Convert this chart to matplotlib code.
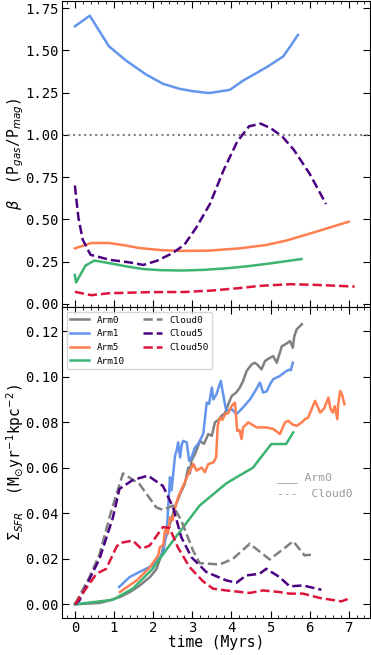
import matplotlib
matplotlib.use('Agg')
import matplotlib.pyplot as plt
from matplotlib.ticker import MultipleLocator

plt.rcParams['font.family'] = ['DejaVu Sans Mono', 'DejaVu Sans']

# ---- beta (top panel) ----
tb_arm1 = [0, 0.38, 0.87, 1.31, 1.82, 2.25, 2.68, 3.02, 3.43, 3.96, 4.30, 4.90, 5.32, 5.49, 5.70]
b_arm1 = [1.642, 1.705, 1.524, 1.439, 1.357, 1.302, 1.272, 1.258, 1.247, 1.266, 1.321, 1.40, 1.463, 1.518, 1.591]
tb_arm5 = [0, 0.42, 0.87, 1.3, 1.65, 2.2, 2.68, 3.44, 4.21, 4.89, 5.40, 6.17, 7.0]
b_arm5 = [0.328, 0.360, 0.360, 0.345, 0.330, 0.318, 0.313, 0.315, 0.328, 0.348, 0.374, 0.427, 0.486]
tb_arm10 = [0, 0.03, 0.27, 0.50, 0.89, 1.3, 1.74, 2.2, 2.76, 3.3, 3.87, 4.4, 4.89, 5.3, 5.79]
b_arm10 = [0.171, 0.126, 0.226, 0.256, 0.240, 0.222, 0.206, 0.199, 0.197, 0.201, 0.210, 0.222, 0.236, 0.249, 0.265]
tb_cloud5 = [0, 0.09, 0.2, 0.4, 0.9, 1.4, 1.75, 2.1, 2.5, 2.8, 3.1, 3.45, 3.8, 4.15, 4.45, 4.75, 5.0, 5.3, 5.6, 6.0, 6.42]
b_cloud5 = [0.70, 0.51, 0.38, 0.29, 0.26, 0.245, 0.23, 0.255, 0.30, 0.35, 0.45, 0.59, 0.79, 0.96, 1.05, 1.066, 1.04, 0.99, 0.91, 0.77, 0.59]
tb_cloud50 = [0, 0.42, 0.89, 1.91, 2.8, 3.53, 4.2, 4.72, 5.49, 6.17, 7.15]
b_cloud50 = [0.071, 0.051, 0.063, 0.069, 0.070, 0.079, 0.093, 0.106, 0.116, 0.112, 0.102]

# ---- SFR (bottom panel) ----
t_arm0 = [0, 0.64, 0.90, 1.15, 1.41, 1.66, 1.92, 2.09, 2.22, 2.30, 2.43, 2.56, 2.69, 2.81, 2.90, 2.94,
          2.98, 3.07, 3.20, 3.30, 3.41, 3.50, 3.58, 3.67, 3.75, 3.84, 3.92, 4.01, 4.12, 4.21, 4.30, 4.39,
          4.52, 4.60, 4.68, 4.77, 4.86, 4.99, 5.07, 5.16, 5.29, 5.37, 5.50, 5.57, 5.61, 5.67, 5.80]
s_arm0 = [0, 0.0006, 0.0018, 0.0032, 0.0054, 0.0083, 0.012, 0.0156, 0.0222, 0.028, 0.0353, 0.0426, 0.0485,
          0.0529, 0.0601, 0.0575, 0.0631, 0.066, 0.0718, 0.0705, 0.0748, 0.0740, 0.0799, 0.0810, 0.0828,
          0.0840, 0.0879, 0.0915, 0.093, 0.095, 0.0981, 0.1025, 0.1054, 0.1061, 0.1050, 0.1032, 0.1069,
          0.1083, 0.1090, 0.1061, 0.1134, 0.1141, 0.1156, 0.1127, 0.1178, 0.1208, 0.1230]
t_arm1 = [1.13, 1.40, 1.65, 1.99, 2.09, 2.20, 2.27, 2.36, 2.43, 2.47, 2.50, 2.56, 2.60, 2.64, 2.69, 2.73,
          2.77, 2.86, 2.92, 2.98, 3.07, 3.15, 3.28, 3.37, 3.43, 3.50, 3.54, 3.62, 3.67, 3.73, 3.79, 3.86,
          3.92, 4.01, 4.13, 4.30, 4.48, 4.62, 4.73, 4.81, 4.90, 4.99, 5.07, 5.24, 5.41, 5.47, 5.52, 5.57]
s_arm1 = [0.0076, 0.012, 0.0142, 0.0171, 0.0193, 0.021, 0.0237, 0.0353, 0.0558, 0.050, 0.0551, 0.0653,
          0.0675, 0.0711, 0.0645, 0.0700, 0.0718, 0.0711, 0.063, 0.0645, 0.0689, 0.0704, 0.0748, 0.0886,
          0.088, 0.0952, 0.090, 0.0923, 0.0950, 0.0981, 0.0923, 0.0857, 0.0850, 0.0857, 0.0835, 0.0865,
          0.0901, 0.094, 0.0974, 0.0930, 0.0935, 0.0967, 0.0989, 0.1003, 0.1025, 0.1030, 0.1028, 0.1061]
t_arm5 = [1.15, 1.58, 1.92, 2.13, 2.17, 2.26, 2.30, 2.34, 2.38, 2.43, 2.50, 2.56, 2.64, 2.73, 2.81, 2.90,
          3.03, 3.11, 3.24, 3.32, 3.41, 3.54, 3.61, 3.65, 3.71, 3.77, 3.84, 3.92, 4.01, 4.09, 4.15, 4.21,
          4.26, 4.30, 4.43, 4.65, 4.90, 5.07, 5.24, 5.37, 5.45, 5.56, 5.67, 5.80, 5.88, 5.96, 6.05, 6.14,
          6.20, 6.27, 6.37, 6.48, 6.53, 6.59, 6.64, 6.71, 6.73, 6.78, 6.83, 6.89]
s_arm5 = [0.0054, 0.0105, 0.0163, 0.0215, 0.0251, 0.026, 0.0324, 0.033, 0.031, 0.0382, 0.037, 0.0426,
          0.047, 0.0507, 0.0536, 0.0573, 0.0616, 0.0587, 0.0601, 0.058, 0.0616, 0.0623, 0.0645, 0.0784,
          0.082, 0.081, 0.0835, 0.084, 0.0872, 0.0886, 0.0762, 0.0765, 0.0726, 0.0777, 0.0799, 0.0777,
          0.0777, 0.077, 0.0748, 0.0799, 0.0806, 0.079, 0.0784, 0.0799, 0.0813, 0.082, 0.0857, 0.0894,
          0.087, 0.0842, 0.086, 0.0908, 0.086, 0.0842, 0.087, 0.0813, 0.0879, 0.0937, 0.092, 0.0879]
t_arm10 = [0, 0.97, 1.48, 1.99, 2.17, 2.51, 3.19, 3.87, 4.13, 4.55, 5.02, 5.40, 5.58]
s_arm10 = [0, 0.002, 0.0069, 0.0156, 0.020, 0.028, 0.0434, 0.0531, 0.0558, 0.060, 0.0704, 0.0704, 0.0755]
t_cloud0 = [0, 0.375, 0.63, 0.93, 1.23, 1.65, 2.08, 2.25, 2.51, 2.72, 3.02, 3.19, 3.70, 4.04, 4.47, 4.98,
            5.58, 5.87, 6.04]
s_cloud0 = [0, 0.012, 0.022, 0.041, 0.0575, 0.0528, 0.0426, 0.0415, 0.0434, 0.0368, 0.0236, 0.0181,
            0.0175, 0.020, 0.0266, 0.0197, 0.0277, 0.0215, 0.0218]
t_cloud5 = [0, 0.12, 0.375, 0.63, 0.97, 1.14, 1.48, 1.87, 2.25, 2.51, 2.72, 2.98, 3.36, 3.87, 4.13, 4.38,
            4.72, 4.89, 5.23, 5.49, 5.83, 6.30]
s_cloud5 = [0, 0.0018, 0.0112, 0.020, 0.038, 0.0507, 0.0546, 0.0565, 0.052, 0.0426, 0.0295, 0.0207,
            0.0142, 0.0105, 0.0095, 0.0127, 0.0134, 0.0156, 0.012, 0.0079, 0.0083, 0.0064]
t_cloud50 = [0, 0.25, 0.55, 0.80, 1.06, 1.14, 1.48, 1.70, 1.91, 2.25, 2.42, 2.63, 2.93, 3.27, 3.53, 3.87,
             4.47, 4.81, 5.23, 5.49, 5.83, 6.26, 6.81, 7.07]
s_cloud50 = [0, 0.0061, 0.0134, 0.0156, 0.0251, 0.0269, 0.028, 0.0244, 0.0258, 0.0339, 0.0336, 0.0251,
             0.0164, 0.0102, 0.0069, 0.0061, 0.005, 0.0061, 0.0054, 0.0047, 0.0047, 0.0028, 0.0013, 0.0029]

c_arm0 = 'gray'
c_arm1 = 'cornflowerblue'
c_arm5 = 'coral'
c_arm10 = 'mediumseagreen'
c_cloud5 = 'indigo'
c_cloud50 = 'crimson'
lw = 1.8

fig = plt.figure(figsize=(3.71, 6.55), dpi=100)
ax1 = fig.add_axes([0.167, 0.531, 0.830, 0.467])
ax2 = fig.add_axes([0.167, 0.0565, 0.830, 0.4745], sharex=ax1)

# top
ax1.plot(tb_arm1, b_arm1, color=c_arm1, lw=lw)
ax1.plot(tb_arm5, b_arm5, color=c_arm5, lw=lw)
ax1.plot(tb_arm10, b_arm10, color=c_arm10, lw=lw)
ax1.plot(tb_cloud5, b_cloud5, color=c_cloud5, lw=lw, ls='--')
ax1.plot(tb_cloud50, b_cloud50, color=c_cloud50, lw=lw, ls='--')
ax1.axhline(1.0, color='gray', ls=':', lw=1.5)
ax1.set_ylim(-0.02, 1.79)
ax1.set_yticks([0, 0.25, 0.5, 0.75, 1.0, 1.25, 1.5, 1.75])
ax1.set_ylabel(r'$\beta$  (P$_{gas}$/P$_{mag}$)', fontsize=10.5, labelpad=-1)
plt.setp(ax1.get_xticklabels(), visible=False)

# bottom
ax2.plot(t_arm0, s_arm0, color=c_arm0, lw=lw, label='Arm0')
ax2.plot(t_arm1, s_arm1, color=c_arm1, lw=lw, label='Arm1')
ax2.plot(t_arm5, s_arm5, color=c_arm5, lw=lw, label='Arm5')
ax2.plot(t_arm10, s_arm10, color=c_arm10, lw=lw, label='Arm10')
ax2.plot(t_cloud0, s_cloud0, color=c_arm0, lw=lw, ls='--', label='Cloud0')
ax2.plot(t_cloud5, s_cloud5, color=c_cloud5, lw=lw, ls='--', label='Cloud5')
ax2.plot(t_cloud50, s_cloud50, color=c_cloud50, lw=lw, ls='--', label='Cloud50')
ax2.legend(loc='upper left', ncol=2, fontsize=6.7, borderaxespad=0.5)
ax2.text(5.17, 0.0556, '___ Arm0', color='gray', fontsize=8.2, va='center', alpha=0.8)
ax2.text(5.17, 0.0486, '---  Cloud0', color='gray', fontsize=8.2, va='center', alpha=0.8)
ax2.set_ylim(-0.006, 0.1305)
ax2.set_yticks([0, 0.02, 0.04, 0.06, 0.08, 0.1, 0.12])
ax2.set_xlim(-0.33, 7.54)
ax2.set_xticks(range(0, 8))
ax2.set_xlabel('time (Myrs)', fontsize=10.5, labelpad=0)
ax2.set_ylabel(r'$\Sigma_{SFR}$  (M$_{\odot}$yr$^{-1}$kpc$^{-2}$)', fontsize=10.5, labelpad=-1)

for ax in [ax1, ax2]:
    ax.xaxis.set_minor_locator(MultipleLocator(0.2))
    ax.tick_params(which='both', direction='in', top=True, right=True, labelsize=10)
    ax.tick_params(which='major', length=5, pad=2.5)
    ax.tick_params(which='minor', length=2.5)
    ax.tick_params(axis='y', which='minor', left=False, right=False)

fig.savefig('out.png', dpi=100)
